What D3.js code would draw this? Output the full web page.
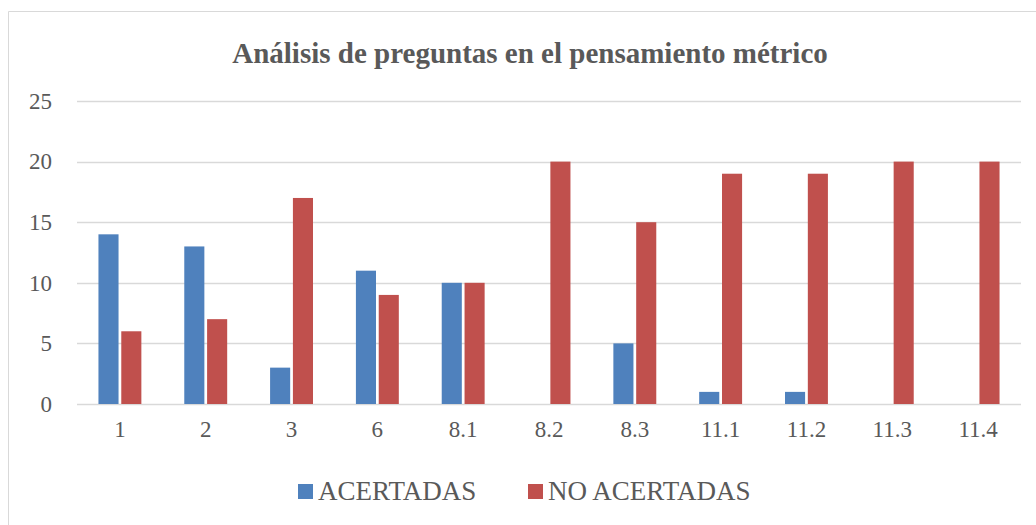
<!DOCTYPE html>
<html>
<head>
  <meta charset="UTF-8">
  <title>chart</title>
</head>
<body style="margin:0">
  <div id="chart"></div>
  <script src="https://cdn.jsdelivr.net/npm/d3@7"></script>
  <script>
    const categories = ['1', '2', '3', '6', '8.1', '8.2', '8.3', '11.1', '11.2', '11.3', '11.4'];
    const acertadas = [14, 13, 3, 11, 10, 0, 5, 1, 1, 0, 0];
    const noAcertadas = [6, 7, 17, 9, 10, 20, 15, 19, 19, 20, 20];
    const seriesNames = ['ACERTADAS', 'NO ACERTADAS'];
    const yTicks = [0, 5, 10, 15, 20, 25];

    const WIDTH = 1036;
    const HEIGHT = 525;
    const margin = {top: 101, right: 15, bottom: 121, left: 77};
    const innerWidth = WIDTH - margin.left - margin.right;
    const innerHeight = HEIGHT - margin.top - margin.bottom;
    const colors = ['#4f81bd', '#c0504d'];
    const FONT = 'Times New Roman';

    const data = categories.map((c, i) => ({cat: c, values: [acertadas[i], noAcertadas[i]]}));

    const svg = d3.select('#chart').append('svg')
      .attr('width', WIDTH)
      .attr('height', HEIGHT)
      .style('display', 'block');

    // chart frame, left and top edges only
    svg.append('path')
      .attr('d', `M8.5,${HEIGHT} V11.5 H${WIDTH}`)
      .attr('fill', 'none')
      .attr('stroke', '#d9d9d9');

    const x0 = d3.scaleBand()
      .domain(categories)
      .range([0, innerWidth]);

    const x1 = d3.scaleBand()
      .domain([0, 1])
      .range([x0.bandwidth() * 0.25, x0.bandwidth() * 0.75])
      .paddingInner(0.12);

    const y = d3.scaleLinear()
      .domain([0, 25])
      .range([innerHeight, 0]);

    const g = svg.append('g')
      .attr('transform', `translate(${margin.left},${margin.top})`);

    // gridlines
    g.append('g')
      .selectAll('line')
      .data(yTicks)
      .join('line')
      .attr('x1', 0).attr('x2', innerWidth)
      .attr('y1', d => Math.round(y(d)) + 0.5)
      .attr('y2', d => Math.round(y(d)) + 0.5)
      .attr('stroke', '#d9d9d9')
      .attr('stroke-width', 1.5);

    // bars
    g.append('g')
      .selectAll('g')
      .data(data)
      .join('g')
      .attr('transform', d => `translate(${x0(d.cat)},0)`)
      .selectAll('rect')
      .data(d => d.values.map((v, k) => ({k, v})))
      .join('rect')
      .attr('x', d => x1(d.k))
      .attr('width', x1.bandwidth())
      .attr('y', d => y(d.v))
      .attr('height', d => innerHeight - y(d.v))
      .attr('fill', d => colors[d.k]);

    // y axis labels
    const yAxis = d3.axisLeft(y).tickValues(yTicks).tickSize(0).tickPadding(25);
    const yG = g.append('g').call(yAxis);
    yG.attr('font-family', null).attr('font-size', null);
    yG.select('.domain').remove();
    yG.selectAll('text')
      .attr('font-family', FONT)
      .attr('font-size', 23)
      .attr('fill', '#595959');

    // x axis labels
    const xAxis = d3.axisBottom(x0).tickSize(0).tickPadding(17);
    const xG = g.append('g')
      .attr('transform', `translate(0,${innerHeight})`)
      .call(xAxis);
    xG.attr('font-family', null).attr('font-size', null);
    xG.select('.domain').remove();
    xG.selectAll('text')
      .attr('font-family', FONT)
      .attr('font-size', 23)
      .attr('fill', '#595959');

    // title
    svg.append('text')
      .attr('x', 530)
      .attr('y', 63)
      .attr('text-anchor', 'middle')
      .attr('font-family', FONT)
      .attr('font-size', 29)
      .attr('font-weight', 'bold')
      .attr('fill', '#595959')
      .text('Análisis de preguntas en el pensamiento métrico');

    // legend
    const legendX = [298, 528];
    const legend = svg.append('g')
      .selectAll('g')
      .data(seriesNames)
      .join('g')
      .attr('transform', (d, i) => `translate(${legendX[i]},484)`);
    legend.append('rect')
      .attr('width', 15).attr('height', 15)
      .attr('fill', (d, i) => colors[i]);
    legend.append('text')
      .attr('x', 20)
      .attr('y', 16)
      .attr('font-family', FONT)
      .attr('font-size', 27)
      .attr('fill', '#595959')
      .text(d => d);
  </script>
</body>
</html>
